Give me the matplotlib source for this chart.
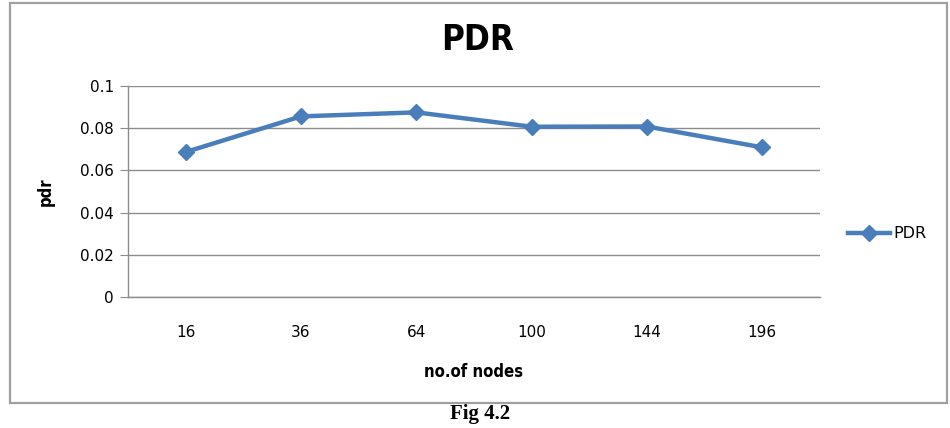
import matplotlib
matplotlib.use("Agg")
import matplotlib.pyplot as plt
from matplotlib.patches import Rectangle

##  Data
nodes = ["16", "36", "64", "100", "144", "196"]
pdr = [0.0687, 0.0856, 0.0875, 0.0807, 0.0808, 0.0709]
yticks = [0, 0.02, 0.04, 0.06, 0.08, 0.1]
ytick_labels = ["0", "0.02", "0.04", "0.06", "0.08", "0.1"]

blue = "#4a7ebb"
grey = "#8c8c8c"

fig = plt.figure(figsize=(9.5, 4.28), dpi=100)

##  Outer chart frame
fig.patches.append(Rectangle((10 / 950, 1 - 403 / 428), 937 / 950, 400 / 428,
                             transform=fig.transFigure, fill=False,
                             edgecolor="#a0a0a0", linewidth=1.6))

ax = fig.add_axes([128 / 950, 1 - 297 / 428, 692 / 950, 211 / 428])

x = list(range(len(nodes)))
ax.plot(x, pdr, color=blue, linewidth=3.2, marker="D", markersize=8,
        markerfacecolor=blue, markeredgecolor=blue, label="PDR")

ax.set_xlim(-0.5, len(nodes) - 0.5)
ax.set_ylim(0, 0.1)
ax.set_yticks(yticks)
ax.set_yticklabels(ytick_labels)
ax.set_xticks(x)
ax.set_xticklabels(nodes)

ax.yaxis.grid(True, color=grey, linewidth=1.0)
ax.set_axisbelow(True)
for side in ["top", "right"]:
    ax.spines[side].set_visible(False)
for side in ["left", "bottom"]:
    ax.spines[side].set_color(grey)
    ax.spines[side].set_linewidth(1.0)

ax.tick_params(axis="y", length=6, color=grey, labelsize=11, pad=4)
ax.tick_params(axis="x", length=0, labelsize=11, pad=20)

ax.set_xlabel("no.of nodes", fontweight="bold", fontstretch="condensed",
              fontsize=12, labelpad=17)
ax.set_ylabel("pdr", fontweight="bold", fontstretch="condensed",
              fontsize=12, labelpad=18)

fig.text(478 / 950, 1 - 40 / 428, "PDR", fontweight="bold", fontstretch="condensed",
         fontsize=25, ha="center", va="center")

ax.legend(loc="center left", bbox_to_anchor=(1.02, 0.3), frameon=False,
          handlelength=2.6, handletextpad=0.2, prop={"size": 11.5})

fig.text(480 / 950, 1 - 414 / 428, "Fig 4.2", family=["Liberation Serif", "DejaVu Serif"],
         fontweight="bold", fontsize=15, ha="center", va="center")

fig.savefig("out.png", dpi=100)
